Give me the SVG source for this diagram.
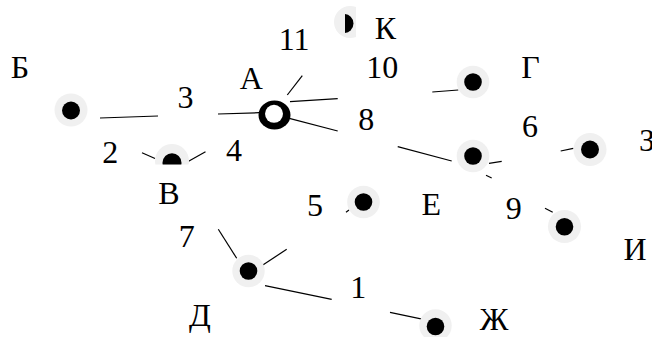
<svg xmlns="http://www.w3.org/2000/svg" width="652" height="337" viewBox="0 0 652 337">
  <style>
    .halo { fill: #f0f0f0; }
    .dot { fill: #000; }
    .edge { stroke: #000; stroke-width: 1.2; fill: none; }
    text { font-family: 'Liberation Serif', 'DejaVu Serif', 'Times New Roman', serif; font-size: 32px; fill: #000; text-anchor: middle; }
  </style>
  <defs>
    <clipPath id="clipV"><rect x="140" y="130" width="70" height="34.5"/></clipPath>
    <clipPath id="clipKh"><rect x="320" y="0" width="36" height="50"/></clipPath>
    <clipPath id="clipKd"><rect x="345" y="0" width="30" height="50"/></clipPath>
  </defs>
  <rect width="652" height="337" fill="#fff"/>

  <g id="connectors">
    <line class="edge" x1="100" y1="118" x2="158" y2="116"/>
    <line class="edge" x1="218" y1="114" x2="259" y2="112.7"/>
    <line class="edge" x1="142" y1="152.7" x2="155" y2="158.5"/>
    <line class="edge" x1="185" y1="163.3" x2="205.5" y2="151.7"/>
    <line class="edge" x1="287.3" y1="95" x2="302.3" y2="75.7"/>
    <line class="edge" x1="290" y1="101.7" x2="337.7" y2="98.7"/>
    <line class="edge" x1="432.3" y1="92" x2="458.3" y2="90"/>
    <line class="edge" x1="289.3" y1="118.3" x2="337.7" y2="131"/>
    <line class="edge" x1="397.7" y1="146.7" x2="451.7" y2="161"/>
    <line class="edge" x1="489" y1="163.3" x2="501.7" y2="161.3"/>
    <line class="edge" x1="560.7" y1="151" x2="573.3" y2="148.3"/>
    <line class="edge" x1="486" y1="175.3" x2="491.7" y2="178"/>
    <line class="edge" x1="545" y1="208.3" x2="552.7" y2="212.3"/>
    <line class="edge" x1="218.3" y1="229.3" x2="236.7" y2="258.3"/>
    <line class="edge" x1="261.7" y1="265.7" x2="286.7" y2="249.3"/>
    <line class="edge" x1="346" y1="212.3" x2="349" y2="210"/>
    <line class="edge" x1="265" y1="285.7" x2="331.7" y2="299.3"/>
    <line class="edge" x1="390" y1="312.3" x2="423.3" y2="319.3"/>
  </g>

  <g id="node-B">
    <circle class="halo" cx="71" cy="110" r="16.5"/>
    <circle class="dot" cx="71" cy="110.5" r="9"/>
    <text x="20" y="78">Б</text>
  </g>
  <g id="node-V">
    <g clip-path="url(#clipV)">
      <circle class="halo" cx="172" cy="161" r="17"/>
      <circle class="dot" cx="172" cy="162.8" r="9.5"/>
    </g>
    <text x="169" y="204">В</text>
  </g>
  <g id="node-A">
    <ellipse cx="274.5" cy="115" rx="16" ry="14.5" fill="#000"/>
    <circle cx="274" cy="113.8" r="9" fill="#fff"/>
    <text x="251.4" y="89">А</text>
  </g>
  <g id="node-K">
    <circle class="halo" cx="350" cy="22" r="16" clip-path="url(#clipKh)"/>
    <circle class="dot" cx="344" cy="23.5" r="9.5" clip-path="url(#clipKd)"/>
    <text x="385.3" y="39">К</text>
  </g>
  <g id="node-G">
    <circle class="halo" cx="473" cy="82" r="16.3"/>
    <circle class="dot" cx="473" cy="82" r="8.8"/>
    <text x="530.5" y="78">Г</text>
  </g>
  <g id="node-X">
    <circle class="halo" cx="473" cy="156" r="16.3"/>
    <circle class="dot" cx="473" cy="156" r="8.8"/>
  </g>
  <g id="node-Z">
    <circle class="halo" cx="590" cy="149.5" r="16.5"/>
    <circle class="dot" cx="590" cy="149.5" r="9"/>
    <text x="647" y="151">З</text>
  </g>
  <g id="node-E">
    <circle class="halo" cx="363.5" cy="202" r="16.3"/>
    <circle class="dot" cx="363.5" cy="202" r="8.8"/>
    <text x="431.2" y="215">Е</text>
  </g>
  <g id="node-I">
    <circle class="halo" cx="564.5" cy="226.5" r="16.5"/>
    <circle class="dot" cx="564.5" cy="226.7" r="8.8"/>
    <text x="635" y="260">И</text>
  </g>
  <g id="node-D">
    <circle class="halo" cx="248.5" cy="271" r="16.2"/>
    <circle class="dot" cx="248.5" cy="271" r="8.8"/>
    <text x="200" y="326">Д</text>
  </g>
  <g id="node-Zh">
    <circle class="halo" cx="435.5" cy="325.5" r="16.2"/>
    <circle class="dot" cx="435.5" cy="326.5" r="8.8"/>
    <text x="494.2" y="330">Ж</text>
  </g>

  <g id="edge-labels">
    <text x="294.2" y="50">11</text>
    <text x="382.2" y="78">10</text>
    <text x="185.5" y="108">3</text>
    <text x="110.3" y="163">2</text>
    <text x="233.9" y="161">4</text>
    <text x="366.3" y="130">8</text>
    <text x="530" y="137">6</text>
    <text x="315" y="216">5</text>
    <text x="186.7" y="247">7</text>
    <text x="513.7" y="219">9</text>
    <text x="358.3" y="298">1</text>
  </g>
</svg>
